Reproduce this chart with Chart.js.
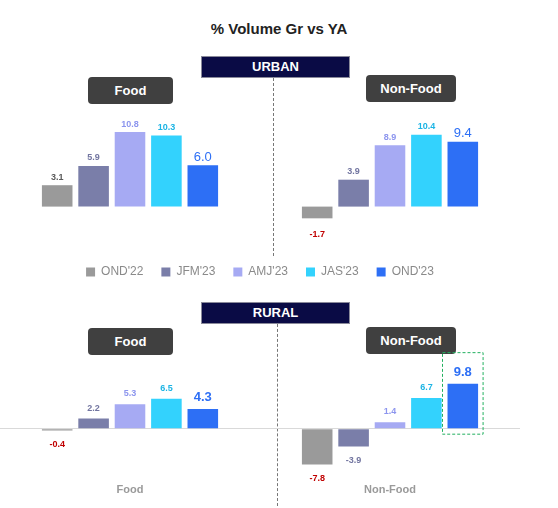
<!DOCTYPE html>
<html>
<head>
<meta charset="utf-8">
<script src="https://cdn.jsdelivr.net/npm/chart.js@4.4.1/dist/chart.umd.min.js"></script>
<style>
  body { margin: 0; width: 558px; height: 508px; background: #fff; font-family: Arial, "Liberation Sans", sans-serif; position: relative; overflow: hidden; }
  .abs { position: absolute; }
  .title { left: 0; width: 558px; top: 20px; text-align: center; font-weight: bold; font-size: 15px; color: #222; }
  .band { left: 201px; width: 147px; height: 20px; background: #0a0b45; border: 1px solid #8a8a9a; color: #fff; font-weight: bold; font-size: 13px; text-align: center; line-height: 20px; }
  .pill { height: 27px; background: #404040; border-radius: 4px; color: #fff; font-weight: bold; font-size: 13px; text-align: center; line-height: 27px; }
  .div { width: 0; border-left: 1px dashed #777; }
</style>
</head>
<body>
<div class="abs title">% Volume Gr vs YA</div>
<div class="abs div" style="left:273px; top:78px; height:178px"></div>
<div class="abs div" style="left:277px; top:324px; height:182px"></div>
<div class="abs band" style="top:56px">URBAN</div>
<div class="abs band" style="top:302px">RURAL</div>
<div class="abs pill" style="left:88px; top:77px; width:85px">Food</div>
<div class="abs pill" style="left:366px; top:75px; width:90px">Non-Food</div>
<div class="abs pill" style="left:88px; top:328px; width:85px">Food</div>
<div class="abs pill" style="left:366px; top:327px; width:90px">Non-Food</div>
<canvas id="urban" class="abs" style="left:0; top:100px"></canvas>
<canvas id="rural" class="abs" style="left:0; top:340px"></canvas>
<script>
const categories = ['Food', 'Non-Food'];
const periods = ["OND'22", "JFM'23", "AMJ'23", "JAS'23", "OND'23"];
const urbanOND22 = [3.1, -1.7];
const urbanJFM23 = [5.9, 3.9];
const urbanAMJ23 = [10.8, 8.9];
const urbanJAS23 = [10.3, 10.4];
const urbanOND23 = [6.0, 9.4];
const ruralOND22 = [-0.4, -7.8];
const ruralJFM23 = [2.2, -3.9];
const ruralAMJ23 = [5.3, 1.4];
const ruralJAS23 = [6.5, 6.7];
const ruralOND23 = [4.3, 9.8];

const barColors = ['#9a9a9a', '#7a7ea9', '#a6aaf3', '#33d2fd', '#2d6ff5'];
const labelColors = ['#595959', '#7275a0', '#8c95ee', '#1cb4e4', '#2d6ff5'];

function makeSets(rows) {
  return rows.map((data, i) => ({
    label: periods[i], data: data, backgroundColor: barColors[i],
    categoryPercentage: 0.7, barPercentage: 0.84
  }));
}

// value labels above / below bars
const valueLabels = {
  id: 'valueLabels',
  afterDatasetsDraw(chart) {
    const ctx = chart.ctx;
    ctx.save();
    ctx.textAlign = 'center';
    chart.data.datasets.forEach((ds, i) => {
      chart.getDatasetMeta(i).data.forEach((bar, j) => {
        const v = ds.data[j];
        const big = i === 4;
        ctx.font = big ? '13px Arial' : 'bold 9px Arial';
        if (big && chart.canvas.id === 'rural') ctx.font = 'bold 13px Arial';
        ctx.fillStyle = (v < 0 && i === 0) ? '#c00000' : labelColors[i];
        const y = v >= 0 ? bar.y - 8 : bar.y + 16;
        ctx.fillText(v.toFixed(1), bar.x, y);
      });
    });
    // highlight box around rural Non-Food OND'23
    if (chart.canvas.id === 'rural') {
      const b = chart.getDatasetMeta(4).data[1];
      ctx.strokeStyle = '#22b060';
      ctx.setLineDash([3, 2]);
      ctx.lineWidth = 1;
      ctx.strokeRect(b.x - b.width / 2 - 5, b.y - 31, b.width + 10, b.base - b.y + 37);
    }
    ctx.restore();
  }
};

function opts(min, max, showX, legend) {
  return {
    responsive: false, animation: false,
    layout: { padding: { left: 0, right: 38, top: 0, bottom: 0 } },
    plugins: {
      legend: legend ? {
        display: true, position: 'bottom',
        labels: { boxWidth: 9, boxHeight: 9, color: '#8a8a8a', font: { size: 12, family: 'Arial' }, padding: 18 }
      } : { display: false },
      tooltip: { enabled: false }
    },
    scales: {
      y: { min: min, max: max, display: showX, ticks: { display: false },
           border: { display: false },
           grid: { color: c => c.tick.value === 0 ? '#d9d9d9' : 'transparent', drawTicks: false } },
      x: { display: showX, border: { display: false }, grid: { display: false },
           ticks: { color: '#9a9a9a', font: { size: 11, weight: 'bold', family: 'Arial' } } }
    }
  };
}

const uc = document.getElementById('urban');
uc.width = 558; uc.height = 188;
new Chart(uc, {
  type: 'bar',
  data: { labels: categories, datasets: makeSets([urbanOND22, urbanJFM23, urbanAMJ23, urbanJAS23, urbanOND23]) },
  options: opts(-6.0, 15.45, false, true),
  plugins: [valueLabels]
});

const rc = document.getElementById('rural');
rc.width = 558; rc.height = 160;
new Chart(rc, {
  type: 'bar',
  data: { labels: categories, datasets: makeSets([ruralOND22, ruralJFM23, ruralAMJ23, ruralJAS23, ruralOND23]) },
  options: opts(-9.6, 19.3, true, false),
  plugins: [valueLabels]
});
</script>
</body>
</html>
